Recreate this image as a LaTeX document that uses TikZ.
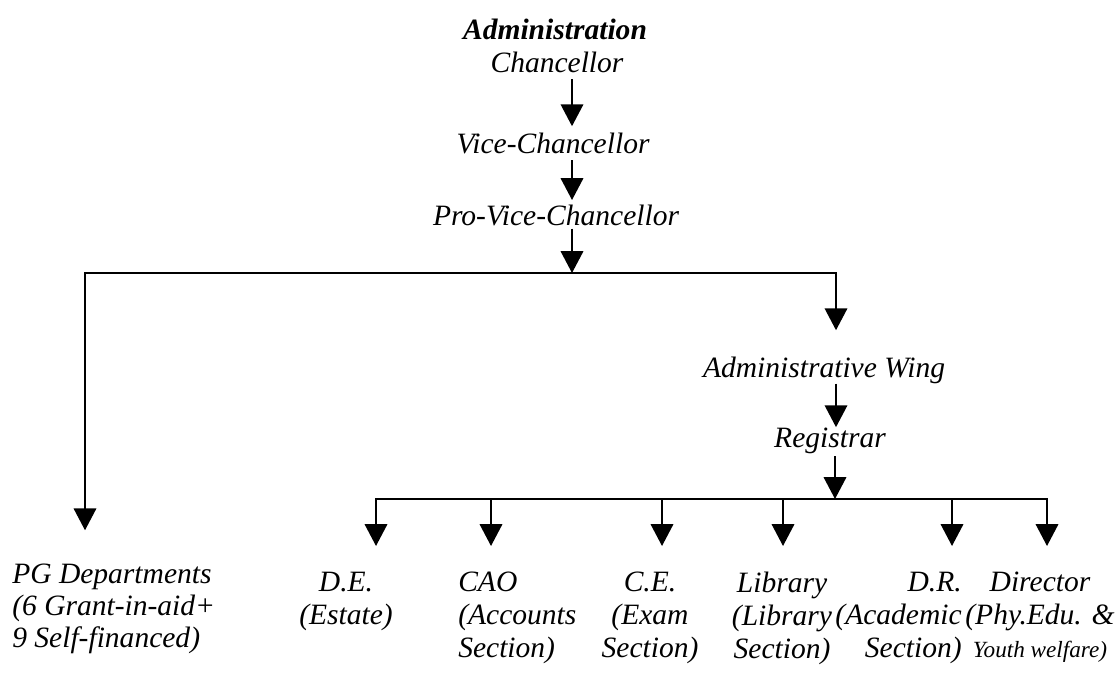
\documentclass[tikz,border=0pt]{standalone}
\usepackage{fontspec}
\setmainfont{Liberation Serif}
\usetikzlibrary{arrows.meta}

\tikzset{
  org/.style={font=\fontsize{21}{23.5}\selectfont\itshape, inner sep=0pt},
  unit/.style={org, anchor=north},
  down/.style={line width=1.2pt, line join=miter, -{Triangle[width=16pt,length=15.5pt]}},
}

\begin{document}
\begin{tikzpicture}[x=0.025cm,y=-0.025cm]
 \useasboundingbox (0,0) rectangle (1115,675);
 \def\barA{273}
 \def\barB{499}
 % top chain
 \node[org,anchor=base,font=\fontsize{21}{23.5}\selectfont\bfseries\itshape] (admin) at (555,40) {Administration};
 \node[org,anchor=base] (chanc) at (557,73) {Chancellor};
 \node[org,anchor=base] (vc) at (553,154) {Vice-Chancellor};
 \node[org,anchor=base] (pvc) at (556,225) {Pro-Vice-Chancellor};
 \coordinate (spine) at (572,\barA);
 \draw[down,shorten <=4pt,shorten >=5pt] (chanc.south -| spine) -- (vc.north -| spine);
 \draw[down,shorten <=4pt,shorten >=3pt] (vc.south -| spine) -- (pvc.north -| spine);
 \draw[down,shorten <=2pt] (pvc.south -| spine) -- (spine);
 % first split
 \coordinate (pgTop) at (85,\barA);
 \coordinate (awTop) at (836,\barA);
 \node[org,anchor=base] (aw) at (824,377) {Administrative Wing};
 \node[org,anchor=base] (reg) at (830,447) {Registrar};
 \node[unit,anchor=north west,align=left,font=\fontsize{21}{22.5}\selectfont\itshape] (pg) at (12,564)
   {PG Departments\\(6 Grant-in-aid+\\9 Self-financed)};
 \draw[down,shorten >=24pt] (spine) -- (pgTop) -- (pg.north -| pgTop);
 \draw[down,shorten >=18.5pt] (spine) -- (awTop) -- (aw.north -| awTop);
 \draw[down] (aw.south -| awTop) -- (reg.north -| awTop);
 % registrar's sections
 \coordinate (hub) at (835,\barB);
 \coordinate (d1) at (376,\barB);
 \coordinate (d2) at (491,\barB);
 \coordinate (d3) at (662,\barB);
 \coordinate (d4) at (783,\barB);
 \coordinate (d5) at (952,\barB);
 \coordinate (d6) at (1047,\barB);
 \draw[down,shorten <=2pt] (reg.south -| hub) -- (hub);
 \node[unit,align=center] (de) at (346,572) {D.E.\\(Estate)};
 \node[unit,anchor=north west,align=left] (cao) at (458,572) {CAO\\(Accounts\\Section)};
 \node[unit,align=center] (ce) at (650,572) {C.E.\\(Exam\\Section)};
 \node[unit,align=center] (lib) at (782,572) {Library\\(Library\\Section)};
 \node[unit,anchor=north east,align=right] (dr) at (962,572) {D.R.\\(Academic\\Section)};
 \node[unit,align=center] (dir) at (1040,572)
   {Director\\(Phy.Edu. \&\\{\fontsize{16.5}{23.5}\selectfont Youth welfare)}};
 \draw[down,shorten >=18.5pt] (hub) -- (d1) -- (de.north -| d1);
 \draw[down,shorten >=18.5pt] (hub) -- (d6) -- (dir.north -| d6);
 \foreach \d/\n in {d2/cao,d3/ce,d4/lib,d5/dr}
   \draw[down,shorten >=18.5pt] (\d) -- (\n.north -| \d);
\end{tikzpicture}
\end{document}
